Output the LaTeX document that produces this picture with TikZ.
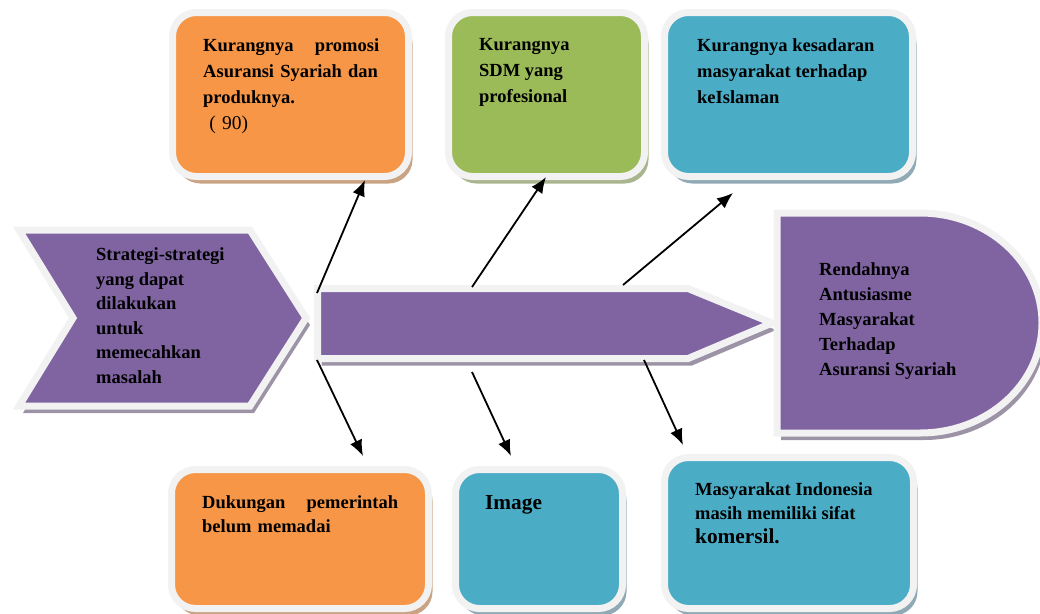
\documentclass[tikz,border=0pt]{standalone}
\usepackage{fontspec}
\setmainfont{Liberation Serif}
\usepackage{xcolor}
\usepackage{tikz}
\usetikzlibrary{calc}
\usetikzlibrary{shadows}
\usetikzlibrary{arrows.meta,positioning}
\definecolor{ungu}{HTML}{8064A2}
\definecolor{oranye}{HTML}{F79646}
\definecolor{hijau}{HTML}{9BBB59}
\definecolor{biru}{HTML}{4BACC6}
\definecolor{tepi}{HTML}{F2F2F2}
\definecolor{bayangoranye}{HTML}{C9A383}
\definecolor{bayanghijau}{HTML}{A9B58F}
\definecolor{bayangbiru}{HTML}{8FAAB4}
\definecolor{bayangungu}{HTML}{9C94A6}
\tikzset{
	kotak/.style={draw=tepi, line width=7pt, rounded corners=24pt, inner sep=0pt, minimum height=164pt},
	bayang/.style={drop shadow={shadow xshift=4pt, shadow yshift=-7pt, fill=#1, opacity=1}},
	teks/.style={anchor=north west, inner sep=0pt, align=left, font=\bfseries\fontsize{18.5}{26}\selectfont},
	panah/.style={-{Latex[length=16pt,width=13pt]}, line width=1.8pt},
}

\begin{document}
\begin{tikzpicture}[x=1pt,y=-1pt]
		\useasboundingbox (0,0) rectangle (1040,613);
		\node[kotak, bayang=bayangoranye, fill=oranye, minimum width=236pt] (promosi) at (290.5,94.5) {};
		\node[kotak, bayang=bayanghijau, fill=hijau, minimum width=196pt] (sdm) at (546.5,94.5) {};
		\node[kotak, bayang=bayangbiru, fill=biru, minimum width=248pt] (kesadaran) at (788.5,94.5) {};
		\node[kotak, bayang=bayangoranye, fill=oranye, minimum width=257pt, minimum height=139pt] (dukungan) at (300,539) {};
		\node[kotak, bayang=bayangbiru, fill=biru, minimum width=167pt, minimum height=139pt] (gambar) at (539,539) {};
		\node[kotak, bayang=bayangbiru, fill=biru, minimum width=249pt, minimum height=151pt] (komersil) at (789,533) {};
		\draw[draw=tepi, line width=7pt, fill=ungu, bayang=bayangungu] (19,230) -- (250,230) -- (306,318) -- (250,406) -- (19,406) -- (73,318) -- cycle;
		\draw[draw=tepi, line width=7pt, fill=ungu, bayang=bayangungu] (317.5,288.5) -- (688,288.5) -- (772,323) -- (688,358.5) -- (317.5,358.5) -- cycle;
		\draw[draw=tepi, line width=7pt, fill=ungu, bayang=bayangungu] (777,213) -- (920,213) arc[start angle=-90, end angle=90, x radius=122, y radius=110] -- (777,433) -- cycle;
		\node[teks, text width=176pt] (promosi teks) at (203,38.5) {Kurangnya\hfill promosi\\Asuransi Syariah dan\\produknya.\\{\mdseries\fontsize{19.5}{25}\selectfont\ ( 90)}};
		\node[teks] (sdm teks) at (479,38.5) {Kurangnya\\SDM yang\\profesional};
		\node[teks] (kesadaran teks) at (697,38) {Kurangnya kesadaran\\masyarakat terhadap\\keIslaman};
		\node[teks, font=\bfseries\fontsize{18.5}{24.6}\selectfont] (strategi) at (96,247.5) {Strategi-strategi\\yang dapat\\dilakukan\\untuk\\memecahkan\\masalah};
		\node[teks, font=\bfseries\fontsize{18.5}{25}\selectfont] (rendah) at (819,262.5) {Rendahnya\\Antusiasme\\Masyarakat\\Terhadap\\Asuransi Syariah};
		\node[teks, text width=196pt, font=\bfseries\fontsize{18.5}{24}\selectfont] (dukungan teks) at (202,495.5) {Dukungan\hfill pemerintah\\belum memadai};
		\node[teks, font=\bfseries\fontsize{21.3}{26}\selectfont] (gambar teks) at (485,495.5) {Image};
		\node[teks, font=\bfseries\fontsize{18.5}{24}\selectfont] (komersil teks) at (695,482.5) {Masyarakat Indonesia\\masih memiliki sifat\\{\fontsize{21.3}{24}\selectfont komersil.}};
		\coordinate (a1) at (317,293);
		\coordinate (b1) at (365,180);
		\coordinate (a2) at (472,287);
		\coordinate (b2) at (546,177);
		\coordinate (a3) at (623,285);
		\coordinate (b3) at (733,193);
		\coordinate (a4) at (317,360);
		\coordinate (b4) at (363,456);
		\coordinate (a5) at (472,372);
		\coordinate (b5) at (511,456);
		\coordinate (a6) at (644,360);
		\coordinate (b6) at (683,445);
		\draw[panah] (a1) -- (b1);
		\draw[panah] (a2) -- (b2);
		\draw[panah] (a3) -- (b3);
		\draw[panah] (a4) -- (b4);
		\draw[panah] (a5) -- (b5);
		\draw[panah] (a6) -- (b6);
	\end{tikzpicture}
\end{document}
